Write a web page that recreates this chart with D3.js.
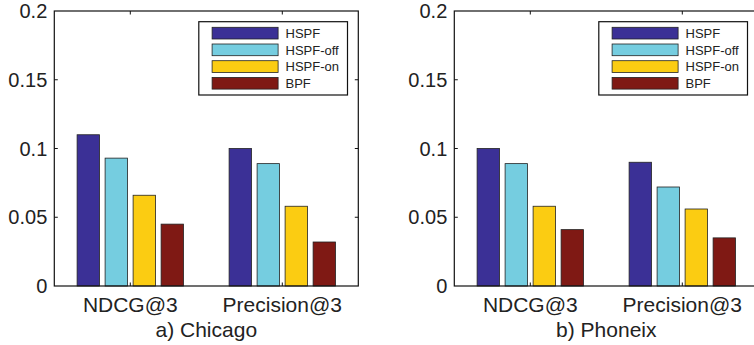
<!DOCTYPE html>
<html>
<head>
<meta charset="utf-8">
<script src="https://cdn.jsdelivr.net/npm/d3@7"></script>
<style>
  body { margin: 0; background: #fff; }
  svg { display: block; font-family: 'Liberation Sans', Arial, sans-serif; }
</style>
</head>
<body>
<svg id="chart" width="754" height="345"></svg>
<script>
const categories = ['NDCG@3', 'Precision@3'];
const series = ['HSPF', 'HSPF-off', 'HSPF-on', 'BPF'];
const colors = ['#3b3096', '#75cde0', '#fbcc12', '#7f1914'];
const yTicks = [0, 0.05, 0.1, 0.15, 0.2];
// one row per category, one value per series
const chicagoValues = [[0.11, 0.093, 0.066, 0.045], [0.1, 0.089, 0.058, 0.032]];
const phoenixValues = [[0.1, 0.089, 0.058, 0.041], [0.09, 0.072, 0.056, 0.035]];

const svg = d3.select('#chart');
const width = 304, height = 275, marginTop = 11;

drawPanel(54.3, chicagoValues, 'a) Chicago');
drawPanel(454.3, phoenixValues, 'b) Phoneix');

function drawPanel(left, values, title) {
  const g = svg.append('g').attr('transform', 'translate(' + left + ',' + marginTop + ')');
  const x0 = d3.scaleBand().domain(categories).range([0, width]).paddingInner(0.3).paddingOuter(0.15);
  const x1 = d3.scaleBand().domain(series).range([0, x0.bandwidth()]).paddingInner(0.2);
  const y = d3.scaleLinear().domain([0, 0.2]).range([height, 0]);

  const groups = g.selectAll('.grp').data(categories).enter().append('g')
      .attr('transform', d => 'translate(' + x0(d) + ',0)');
  groups.selectAll('rect')
      .data((d, i) => values[i].map((v, j) => ({ key: series[j], v: v, c: colors[j] })))
      .enter().append('rect')
      .attr('x', d => x1(d.key))
      .attr('y', d => y(d.v))
      .attr('width', x1.bandwidth())
      .attr('height', d => height - y(d.v))
      .attr('fill', d => d.c)
      .attr('stroke', '#222')
      .attr('stroke-width', 0.8);

  // box
  g.append('rect').attr('width', width).attr('height', height)
      .attr('fill', 'none').attr('stroke', '#111').attr('stroke-width', 1.2);

  // y axis, ticks inside on both sides
  const tl = 3.5;
  g.append('g').selectAll('line').data(yTicks.slice(1, -1)).enter().append('line')
      .attr('x1', 0).attr('x2', tl).attr('y1', d => y(d)).attr('y2', d => y(d))
      .attr('stroke', '#111');
  g.append('g').selectAll('line').data(yTicks.slice(1, -1)).enter().append('line')
      .attr('x1', width - tl).attr('x2', width).attr('y1', d => y(d)).attr('y2', d => y(d))
      .attr('stroke', '#111');
  g.append('g').selectAll('text').data(yTicks).enter().append('text')
      .attr('x', -7).attr('y', d => y(d)).attr('dy', '0.36em')
      .attr('text-anchor', 'end').attr('font-size', 20).attr('fill', '#222')
      .text(d => d3.format('~g')(d));

  // x ticks at group centres
  const cx = d => x0(d) + x0.bandwidth() / 2;
  g.append('g').selectAll('line').data(categories).enter().append('line')
      .attr('x1', cx).attr('x2', cx).attr('y1', height).attr('y2', height - tl)
      .attr('stroke', '#111');
  g.append('g').selectAll('line').data(categories).enter().append('line')
      .attr('x1', cx).attr('x2', cx).attr('y1', 0).attr('y2', tl)
      .attr('stroke', '#111');
  g.append('g').selectAll('text').data(categories).enter().append('text')
      .attr('x', cx).attr('y', height + 26)
      .attr('text-anchor', 'middle').attr('font-size', 21).attr('fill', '#222')
      .text(d => d);

  g.append('text').attr('x', width / 2).attr('y', height + 51)
      .attr('text-anchor', 'middle').attr('font-size', 21).attr('fill', '#222')
      .text(title);

  // legend
  const lg = g.append('g').attr('transform', 'translate(' + (width - 159.5) + ',10.7)');
  lg.append('rect').attr('width', 148.7).attr('height', 73.3)
      .attr('fill', '#fff').attr('stroke', '#111').attr('stroke-width', 1.2);
  const items = lg.selectAll('.item').data(series).enter().append('g')
      .attr('transform', (d, i) => 'translate(13.3,' + (5.6 + i * 16.7) + ')');
  items.append('rect').attr('width', 66).attr('height', 11.7)
      .attr('fill', (d, i) => colors[i]).attr('stroke', '#222').attr('stroke-width', 0.8);
  items.append('text').attr('x', 73.4).attr('y', 5.85).attr('dy', '0.36em')
      .attr('font-size', 13).attr('fill', '#222').text(d => d);
}
</script>
</body>
</html>
